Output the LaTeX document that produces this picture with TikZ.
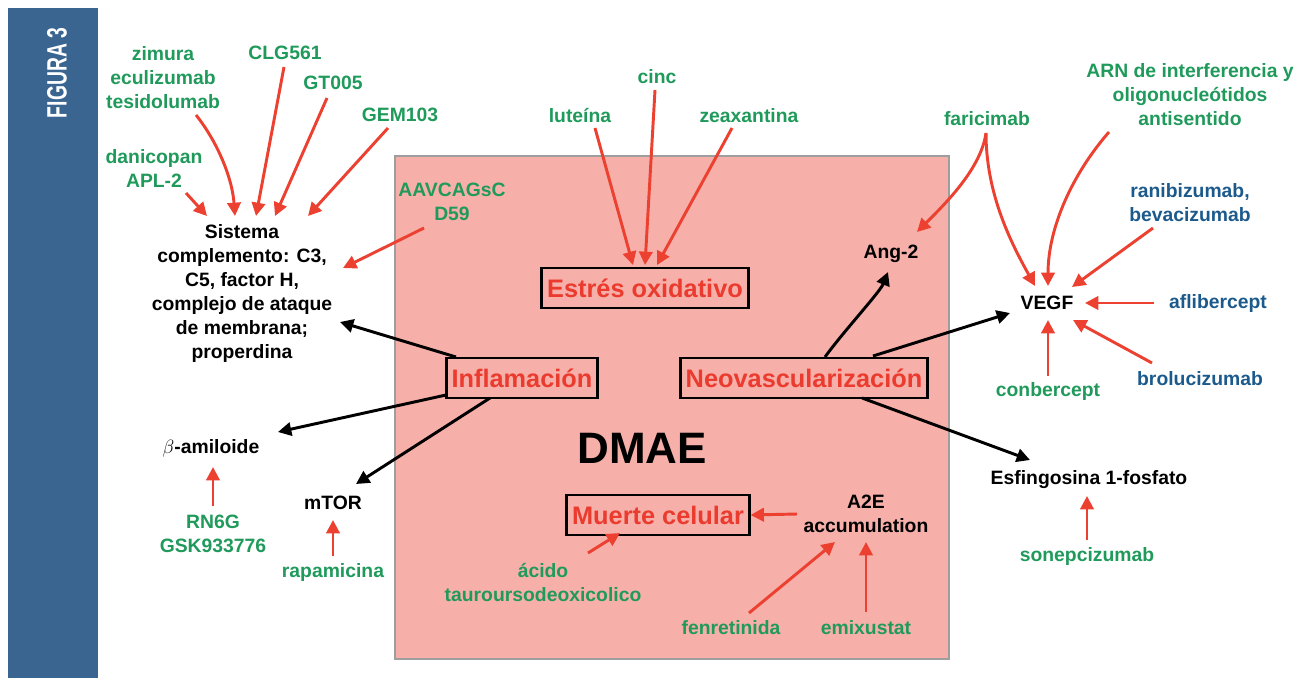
\documentclass[tikz,border=0pt]{standalone}
\usepackage{fontspec}
\setmainfont{Liberation Sans}
\usetikzlibrary{arrows.meta, positioning, calc}
\definecolor{figBlue}{HTML}{3A6591}
\definecolor{drugGreen}{HTML}{1F9A5B}
\definecolor{drugBlue}{HTML}{1D5A8C}
\definecolor{arrowRed}{HTML}{EC4130}
\definecolor{amdPink}{HTML}{F7AFA9}
\definecolor{amdGray}{HTML}{9E9E9E}
\definecolor{procRed}{HTML}{EA3B2E}
\tikzset{
  arrowR/.style={-{Triangle[length=10pt, width=10pt]}, arrowRed, line width=2.2pt},
  arrowK/.style={-{Triangle[length=10pt, width=10pt]}, black, line width=2.2pt},
  drugG/.style={text=drugGreen, align=center, inner sep=2pt,
                font=\fontsize{14.5}{18}\selectfont\bfseries},
  drugB/.style={drugG, text=drugBlue},
  targetK/.style={text=black, align=center, inner sep=2pt,
                  font=\fontsize{14.5}{18}\selectfont\bfseries},
  procBox/.style={rectangle, draw=black, line width=2pt, text=procRed,
                  font=\fontsize{19}{22}\selectfont\bfseries,
                  inner xsep=4pt, minimum height=30pt},
}
\begin{document}
\begin{tikzpicture}[x=0.75pt, y=-0.75pt]
    \useasboundingbox (0,0) rectangle (1305,678);
    \fill[figBlue] (8,8) rectangle (98,678);
    \node[rotate=90, text=white, font=\fontsize{21}{24}\selectfont\bfseries] (fig) at (57,73)
      {\scalebox{0.69}[1]{FIGURA 3}};
    \draw[draw=amdGray, fill=amdPink, line width=2.2pt] (395,156) rectangle (949,659);
    % complemento
    \node[drugG] (zimura) at (163,78) {zimura\\eculizumab\\tesidolumab};
    \node[drugG] (clg) at (285,53) {CLG561};
    \node[drugG] (gt) at (333,83) {GT005};
    \node[drugG] (gem) at (400,115) {GEM103};
    \node[drugG] (dani) at (154,168) {danicopan\\APL-2};
    \node[targetK] (sist) at (242,293)
      {Sistema\\complemento: C3,\\C5, factor H,\\complejo de ataque\\de membrana;\\properdina};
    \node[drugG] (aav) at (452,202) {AAVCAGsC\\D59};
    \node[targetK] (amil) at (211,448) {$\beta$-amiloide};
    \node[drugG] (rn6g) at (213,534) {RN6G\\GSK933776};
    \node[targetK] (mtor) at (333,503) {mTOR};
    \node[drugG] (rapa) at (333,572) {rapamicina};
    % procesos
    \node[drugG] (lut) at (580,116) {luteína};
    \node[drugG] (cinc) at (657,77) {cinc};
    \node[drugG] (zea) at (749,116) {zeaxantina};
    \node[procBox] (estres) at (645,288) {Estrés oxidativo};
    \node[procBox] (infl) at (522,378) {Inflamación};
    \node[procBox] (neo) at (804,378) {Neovascularización};
    \node[font=\fontsize{33}{36}\selectfont\bfseries] (dmae) at (642,448) {DMAE};
    \node[procBox] (muerte) at (658,515) {Muerte celular};
    \node[targetK] (a2e) at (866,514) {A2E\\accumulation};
    \node[drugG] (acido) at (543,582) {ácido\\tauroursodeoxicolico};
    \node[drugG] (fenr) at (731,628) {fenretinida};
    \node[drugG] (emix) at (866,628) {emixustat};
    % neovascularizacion
    \node[targetK] (ang) at (891,254) {Ang-2};
    \node[drugG] (fari) at (987,119) {faricimab};
    \node[drugG] (arn) at (1190,95) {ARN de interferencia y\\oligonucleótidos\\antisentido};
    \node[drugB] (rani) at (1190,203) {ranibizumab,\\bevacizumab};
    \node[targetK] (vegf) at (1047,303) {VEGF};
    \node[drugB] (afli) at (1218,303) {aflibercept};
    \node[drugB] (brolu) at (1200,379) {brolucizumab};
    \node[drugG] (conb) at (1048,391) {conbercept};
    \node[targetK] (esf) at (1089,480) {Esfingosina 1-fosfato};
    \node[drugG] (sonep) at (1087,556) {sonepcizumab};

    \draw[arrowR] ($(zimura)+(33,37)$) .. controls +(20,25) and +(-3,-40) .. ($(sist)+(-7,-77)$);
    \draw[arrowR] ($(clg)+(-1,14)$) -- ($(sist)+(14,-77)$);
    \draw[arrowR] ($(gt)+(-6,15)$) -- ($(sist)+(33,-77)$);
    \draw[arrowR] ($(gem)+(-12,13)$) -- ($(sist)+(66,-77)$);
    \draw[arrowR] ($(dani)+(32,25)$) -- ($(sist)+(-35,-77)$);
    \draw[arrowR] ($(aav)+(-28,26)$) -- ($(sist)+(101,-25)$);
    \draw[arrowR] ($(rn6g)+(0,-28)$) -- ($(amil)+(2,19)$);
    \draw[arrowR] ($(rapa)+(0,-16)$) -- ($(mtor)+(0,17)$);
    \draw[arrowR] ($(lut)+(15,12)$) -- ($(estres)+(-12,-23)$);
    \draw[arrowR] ($(cinc)+(-2,13)$) -- ($(estres)+(0,-23)$);
    \draw[arrowR] ($(zea)+(-17,12)$) -- ($(estres)+(12,-23)$);
    \draw[arrowR] ($(a2e)+(-69,0)$) -- (muerte.east);
    \draw[arrowR] ($(acido)+(45,-29)$) -- ($(muerte)+(-38,18)$);
    \draw[arrowR] ($(fenr)+(18,-15)$) -- ($(a2e)+(-31,28)$);
    \draw[arrowR] ($(emix)+(0,-16)$) -- ($(a2e)+(0,28)$);
    \draw[arrowR] ($(fari)+(-1,14)$) .. controls +(-5,35) and +(30,-30) .. ($(ang)+(26,-22)$);
    \draw[arrowR] ($(fari)+(-1,14)$) .. controls +(0,60) and +(-25,-45) .. ($(vegf)+(-12,-17)$);
    \draw[arrowR] ($(arn)+(-81,37)$) .. controls +(-35,40) and +(0,-60) .. ($(vegf)+(1,-17)$);
    \draw[arrowR] ($(rani)+(-37,25)$) -- ($(vegf)+(25,-16)$);
    \draw[arrowR] ($(afli)+(-64,0)$) -- ($(vegf)+(38,0)$);
    \draw[arrowR] ($(brolu)+(-48,-16)$) -- ($(vegf)+(26,17)$);
    \draw[arrowR] ($(conb)+(0,-15)$) -- ($(vegf)+(1,17)$);
    \draw[arrowR] ($(sonep)+(0,-16)$) -- ($(esf)+(-2,16)$);

    \draw[arrowK] ($(infl)+(-66,-21)$) -- ($(sist)+(98,29)$);
    \draw[arrowK] ($(infl)+(-76,17)$) -- ($(amil)+(67,-16)$);
    \draw[arrowK] ($(infl)+(-32,20)$) -- ($(mtor)+(23,-19)$);
    \draw[arrowK] ($(neo)+(21,-21)$) .. controls +(18,-25) and +(-8,20) .. ($(ang)+(-3,18)$);
    \draw[arrowK] ($(neo)+(69,-22)$) -- ($(vegf)+(-37,10)$);
    \draw[arrowK] ($(neo)+(58,20)$) -- ($(esf)+(-59,-20)$);
  \end{tikzpicture}
\end{document}
